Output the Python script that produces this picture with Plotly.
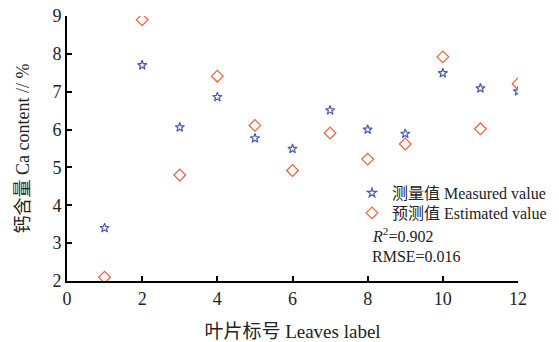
import plotly.graph_objects as go

leaf = [1, 2, 3, 4, 5, 6, 7, 8, 9, 10, 11, 12]
measured = [3.40, 7.70, 6.06, 6.86, 5.77, 5.49, 6.51, 6.00, 5.89, 7.49, 7.09, 7.01]
estimated = [2.10, 8.90, 4.80, 7.41, 6.11, 4.92, 5.91, 5.22, 5.62, 7.92, 6.02, 7.21]
x_ticks = [0, 2, 4, 6, 8, 10, 12]
y_ticks = [2, 3, 4, 5, 6, 7, 8, 9]

FONT = "Liberation Serif, Noto Sans CJK SC, serif"

fig = go.Figure()
fig.add_trace(go.Scatter(
    x=leaf, y=measured, mode="markers", name="测量值 Measured value", legend="legend",
    marker=dict(symbol="star-open", size=7, color="#4b5bb5", line=dict(width=1.2, color="#4b5bb5")),
))
fig.add_trace(go.Scatter(
    x=leaf, y=estimated, mode="markers", name="预测值 Estimated value", legend="legend2",
    marker=dict(symbol="diamond-open", size=9, color="#ef5f3c", line=dict(width=1.2, color="#ef5f3c")),
))

axis_common = dict(
    showline=True, linewidth=2, linecolor="black", mirror=False,
    ticks="inside", ticklen=5, tickwidth=2, tickcolor="black",
    showgrid=False, zeroline=False, automargin=False,
    tickfont=dict(family=FONT, size=18, color="#222"),
)

fig.update_xaxes(range=[0, 12], tickvals=x_ticks, ticktext=[str(v) for v in x_ticks],
                 title=dict(text="叶片标号 Leaves label", font=dict(family=FONT, size=19, color="#222"), standoff=19),
                 **axis_common)
fig.update_yaxes(range=[2, 9], tickvals=y_ticks, ticktext=[str(v) for v in y_ticks],
                 title=dict(text="钙含量 Ca content // %", font=dict(family=FONT, size=18, color="#222"), standoff=18),
                 **axis_common)

fig.add_annotation(x=(370 - 67) / 451, y=(281 - 235) / 265, xref="paper", yref="paper", xanchor="left", yanchor="middle",
                   text="<i>R</i><sup>2</sup>=0.902", showarrow=False,
                   font=dict(family=FONT, size=16, color="#222"))
fig.add_annotation(x=(370 - 67) / 451, y=(281 - 256) / 265, xref="paper", yref="paper", xanchor="left", yanchor="middle",
                   text="RMSE=0.016", showarrow=False,
                   font=dict(family=FONT, size=16, color="#222"))

legend_style = dict(xanchor="left", yanchor="middle", bgcolor="rgba(0,0,0,0)",
                    font=dict(family=FONT, size=16, color="#222"), itemwidth=30, borderwidth=0)

fig.update_layout(
    width=559, height=342,
    margin=dict(l=67, r=41, t=16, b=61, autoexpand=False),
    plot_bgcolor="white", paper_bgcolor="white",
    font=dict(family=FONT, size=16, color="#222"),
    legend=dict(x=(352 - 67) / 451, y=(281 - 193) / 265, **legend_style),
    legend2=dict(x=(352 - 67) / 451, y=(281 - 213) / 265, **legend_style),
    showlegend=True,
)

# remove the default 8px page margin so the figure fills the 559x342 window
fig.write_html("out.html", config={"displayModeBar": False},
               post_script="document.body.style.margin='0';")
